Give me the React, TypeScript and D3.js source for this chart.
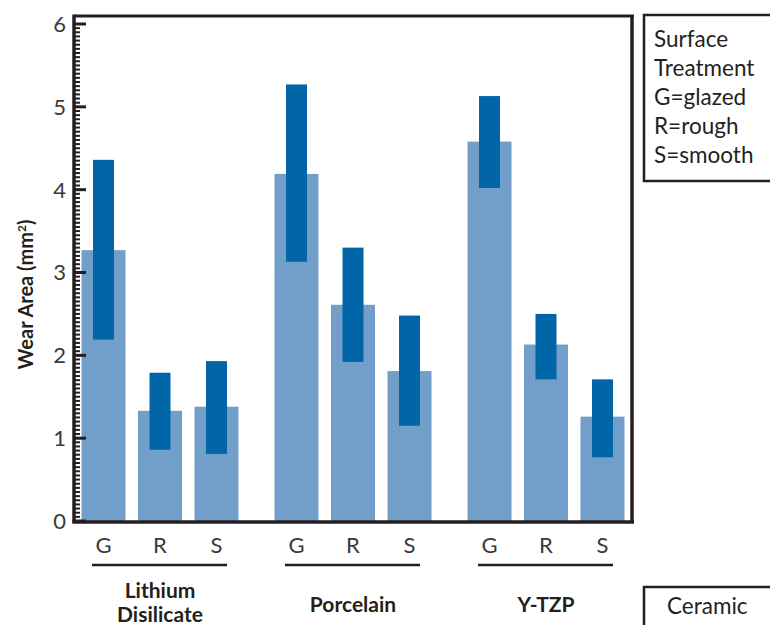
import React from "react";
import * as d3 from "d3";

const groups = ["Lithium Disilicate", "Porcelain", "Y-TZP"];
const treatments = ["G", "R", "S"];
// mean wear area per group, in treatment order
const meanValues = [
  [3.27, 1.33, 1.38],
  [4.19, 2.61, 1.81],
  [4.58, 2.13, 1.26],
];
const rangeLow = [
  [2.19, 0.86, 0.81],
  [3.13, 1.92, 1.15],
  [4.02, 1.71, 0.77],
];
const rangeHigh = [
  [4.36, 1.79, 1.93],
  [5.27, 3.3, 2.48],
  [5.13, 2.5, 1.71],
];
const yTicks = [0, 1, 2, 3, 4, 5, 6];
const legendLines = ["Surface", "Treatment", "G=glazed", "R=rough", "S=smooth"];

const FONT = "Lato, 'Open Sans', sans-serif";
const INK = "#231f20";
const LIGHT = "#729fca";
const DARK = "#0066a8";

export default function App() {
  const width = 770;
  const height = 625;
  const left = 74;
  const right = 632;
  const top = 16;
  const bottom = 522;

  const y = d3.scaleLinear().domain([0, 6]).range([521, 24]);
  const xGroup = d3.scaleBand().domain(groups).range([63.5, 642.5]);
  const xInner = d3.scalePoint().domain(treatments).range([-56.5, 56.5]);
  const center = (gi: number, ti: number) =>
    (xGroup(groups[gi]) ?? 0) + xGroup.bandwidth() / 2 + (xInner(treatments[ti]) ?? 0);
  const minor = d3.range(0, 6.001, 0.05);

  return (
    <svg
      width={width}
      height={height}
      style={{ position: "absolute", left: 0, top: 0, background: "#fff" }}
      fontFamily={FONT}
    >
      {/* bars */}
      {groups.map((g, gi) =>
        treatments.map((t, ti) => {
          const cx = center(gi, ti);
          return (
            <g key={g + t}>
              <rect
                x={cx - 22}
                y={y(meanValues[gi][ti])}
                width={44}
                height={y(0) - y(meanValues[gi][ti])}
                fill={LIGHT}
              />
              <rect
                x={cx - 10.5}
                y={y(rangeHigh[gi][ti])}
                width={21}
                height={y(rangeLow[gi][ti]) - y(rangeHigh[gi][ti])}
                fill={DARK}
              />
            </g>
          );
        }),
      )}

      {/* frame */}
      <line x1={left} x2={right + 2} y1={top} y2={top} stroke={INK} strokeWidth={3} />
      <line x1={right} x2={right} y1={top} y2={bottom + 1} stroke={INK} strokeWidth={3.5} />
      <line x1={left - 1.5} x2={right + 2} y1={bottom} y2={bottom} stroke={INK} strokeWidth={3.5} />
      <line x1={left} x2={left} y1={top - 1.5} y2={bottom + 1} stroke={INK} strokeWidth={3.5} />

      {/* y ticks */}
      {minor.map((v) => (
        <line key={v} x1={left} x2={left + 6} y1={y(v)} y2={y(v)} stroke={INK} strokeWidth={2} />
      ))}
      {yTicks.map((v) => (
        <g key={v}>
          <line x1={left} x2={left + 12} y1={y(v)} y2={y(v)} stroke={INK} strokeWidth={3} />
          <text x={66} y={y(v)} dy="0.36em" textAnchor="end" fontSize={22} fill="#3a3a3a">
            {v}
          </text>
        </g>
      ))}
      <text
        transform={`translate(33,${(y(0) + y(6)) / 2 + 22}) rotate(-90)`}
        textAnchor="middle"
        fontSize={20}
        fontWeight="bold"
        fill={INK}
      >
        Wear Area (mm<tspan dy={-7} fontSize={12}>2</tspan>
        <tspan dy={7}>)</tspan>
      </text>

      {/* x labels */}
      {groups.map((g, gi) => {
        const gc = (xGroup(g) ?? 0) + xGroup.bandwidth() / 2;
        return (
          <g key={g}>
            {treatments.map((t, ti) => (
              <text
                key={t}
                x={center(gi, ti)}
                y={553}
                textAnchor="middle"
                fontSize={22}
                fill="#3a3a3a"
              >
                {t}
              </text>
            ))}
            <line x1={gc - 68} x2={gc + 67} y1={565} y2={565} stroke={INK} strokeWidth={2.5} />
            {g.includes(" ") ? (
              <text x={gc} textAnchor="middle" fontSize={21} fontWeight="bold" fill={INK}>
                {g.split(" ").map((w, i) => (
                  <tspan key={w} x={gc} y={598 + i * 24}>
                    {w}
                  </tspan>
                ))}
              </text>
            ) : (
              <text x={gc} y={612} textAnchor="middle" fontSize={21} fontWeight="bold" fill={INK}>
                {g}
              </text>
            )}
          </g>
        );
      })}

      {/* legend */}
      <rect x={644} y={15} width={140} height={166} fill="none" stroke={INK} strokeWidth={2.5} />
      {legendLines.map((l, i) => (
        <text key={l} x={654} y={47 + i * 29} fontSize={22.5} fill={INK}>
          {l}
        </text>
      ))}
      <rect x={644} y={587} width={140} height={60} fill="none" stroke={INK} strokeWidth={2.5} />
      <text x={667} y={614} fontSize={22.5} fill={INK}>
        Ceramic
      </text>
    </svg>
  );
}
